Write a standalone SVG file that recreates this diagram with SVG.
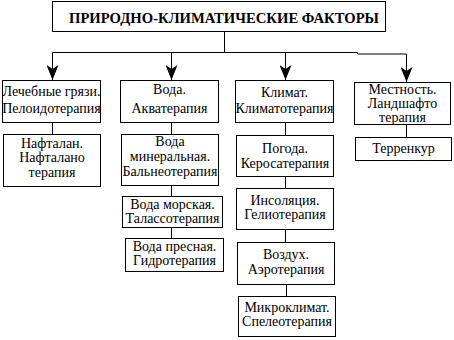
<svg xmlns="http://www.w3.org/2000/svg" width="454" height="340" viewBox="0 0 454 340" font-family="Liberation Serif, DejaVu Serif, serif">
<style>
.b{fill:#fff;stroke:#000;stroke-width:1}
.c{fill:none;stroke:#000;stroke-width:1}
text{font-size:14px;fill:#000;text-anchor:middle}
.t{font-weight:bold;font-size:15px}
</style>
<defs>
<marker id="ah" viewBox="0 0 15 12" refX="15" refY="6" markerWidth="15" markerHeight="12" markerUnits="userSpaceOnUse" orient="auto">
<path d="M0,0 L15,6 L0,12 L4,6 z" fill="#000"/>
</marker>
</defs>
<g id="connectors">
<path class="c" d="M224.5,31 V52.5"/>
<path class="c" d="M52.5,52.5 H357.5 V54 H406.5"/>
<path class="c" d="M52.5,52.5 V80" marker-end="url(#ah)"/>
<path class="c" d="M171.5,52.5 V80" marker-end="url(#ah)"/>
<path class="c" d="M285.5,52.5 V80" marker-end="url(#ah)"/>
<path class="c" d="M406.5,54 V82" marker-end="url(#ah)"/>
<path class="c" d="M52.5,123 V134"/>
<path class="c" d="M171.5,123 V134"/>
<path class="c" d="M171.5,186 V196"/>
<path class="c" d="M171.5,228 V238"/>
<path class="c" d="M285.5,123 V135"/>
<path class="c" d="M285.5,177 V188"/>
<path class="c" d="M285.5,230 V242"/>
<path class="c" d="M286.5,285 V296"/>
<path class="c" d="M406.5,125 V137"/>
</g>
<g id="title">
<rect class="b" x="52.5" y="1.5" width="333" height="30"/>
<text class="t" x="224" y="23" textLength="310" lengthAdjust="spacingAndGlyphs" font-family="Liberation Serif, serif">ПРИРОДНО-КЛИМАТИЧЕСКИЕ ФАКТОРЫ</text>
</g>
<g id="n1">
<rect class="b" x="2.5" y="80.5" width="98" height="42"/>
<text x="51.5" y="96">Лечебные грязи.</text>
<text x="51.5" y="113">Пелоидотерапия</text>
</g>
<g id="n2">
<rect class="b" x="120.5" y="80.5" width="98" height="42"/>
<text x="169.5" y="94">Вода.</text>
<text x="169.5" y="113">Акватерапия</text>
</g>
<g id="n3">
<rect class="b" x="235.5" y="80.5" width="98" height="42"/>
<text x="284.5" y="97">Климат.</text>
<text x="284.5" y="113">Климатотерапия</text>
</g>
<g id="n4">
<rect class="b" x="354.5" y="82.5" width="96" height="42"/>
<text x="402.5" y="94">Местность.</text>
<text x="402.5" y="108">Ландшафто</text>
<text x="402.5" y="122">терапия</text>
</g>
<g id="n5">
<rect class="b" x="3.5" y="134.5" width="97" height="52"/>
<text x="52" y="148">Нафталан.</text>
<text x="52" y="162">Нафталано</text>
<text x="52" y="177">терапия</text>
</g>
<g id="n6">
<rect class="b" x="121.5" y="134.5" width="97" height="51"/>
<text x="170" y="146">Вода</text>
<text x="170" y="161">минеральная.</text>
<text x="170" y="176">Бальнеотерапия</text>
</g>
<g id="n7">
<rect class="b" x="122.5" y="196.5" width="100" height="31"/>
<text x="172.5" y="209">Вода морская.</text>
<text x="172.5" y="223">Талассотерапия</text>
</g>
<g id="n8">
<rect class="b" x="125.5" y="238.5" width="98" height="33"/>
<text x="174.5" y="251">Вода пресная.</text>
<text x="174.5" y="265">Гидротерапия</text>
</g>
<g id="n9">
<rect class="b" x="236.5" y="135.5" width="97" height="41"/>
<text x="285" y="153">Погода.</text>
<text x="285" y="168">Керосатерапия</text>
</g>
<g id="n10">
<rect class="b" x="236.5" y="188.5" width="97" height="41"/>
<text x="285" y="205">Инсоляция.</text>
<text x="285" y="219">Гелиотерапия</text>
</g>
<g id="n11">
<rect class="b" x="237.5" y="242.5" width="97" height="42"/>
<text x="286" y="259">Воздух.</text>
<text x="286" y="274">Аэротерапия</text>
</g>
<g id="n12">
<rect class="b" x="238.5" y="296.5" width="97" height="40"/>
<text x="287" y="312">Микроклимат.</text>
<text x="287" y="326">Спелеотерапия</text>
</g>
<g id="n13">
<rect class="b" x="355.5" y="137.5" width="96" height="23"/>
<text x="403.5" y="153">Терренкур</text>
</g>
</svg>
